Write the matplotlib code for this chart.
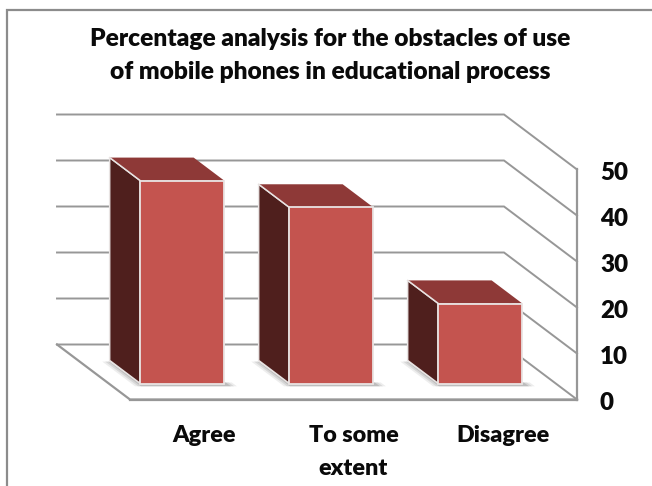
import matplotlib
matplotlib.use("Agg")
import matplotlib.pyplot as plt
from matplotlib.patches import Polygon
from matplotlib.lines import Line2D
from matplotlib.transforms import ScaledTranslation

categories = ["Agree", "To some\nextent", "Disagree"]
values = [44.1, 38.3, 17.4]
value_ticks = [0, 10, 20, 30, 40, 50]
title = "Percentage analysis for the obstacles of use\nof mobile phones in educational process"

W, H = 652, 486
plt.rcParams["font.family"] = ["Lato", "DejaVu Sans"]
fig = plt.figure(figsize=(W / 100, H / 100), dpi=100, facecolor="white")

# Front plane of the 3-D box, in figure pixels
L, R, B, T = 130, 577, 399.5, 169.5
ax = fig.add_axes([L / W, 1 - B / H, (R - L) / W, (B - T) / H])
ax.set_xlim(0, 3)
ax.set_ylim(0, 50)
ax.patch.set_visible(False)

# Oblique projection: depth 0 = front, depth 1 = back wall
DX = -73 / ((R - L) / 3)
DY = 55 / ((B - T) / 50)


def proj(x, y, d):
    return (x + DX * d, y + DY * d)


GRID = "#979797"
for v in value_ticks:
    xs, ys = zip(proj(3, v, 0), proj(3, v, 1), proj(0, v, 1))
    ax.plot(xs, ys, color=GRID, lw=1.4, clip_on=False, zorder=1, solid_joinstyle="miter")
xs, ys = zip(proj(3, 0, 0), proj(0, 0, 0), proj(0, 0, 1))
ax.plot(xs, ys, color=GRID, lw=1.6, clip_on=False, zorder=1, solid_joinstyle="miter")

for s in ("top", "left"):
    ax.spines[s].set_visible(False)
ax.spines["bottom"].set_color(GRID)
ax.spines["bottom"].set_linewidth(1.6)
ax.spines["right"].set_color(GRID)
ax.spines["right"].set_linewidth(1.6)

ax.yaxis.tick_right()
ax.set_yticks(value_ticks)
ax.set_xticks([i + 0.5 for i in range(len(categories))])
ax.set_xticklabels(categories, fontweight="heavy", fontsize=16.8, color="#0a0a0a", linespacing=1.68)
ax.set_yticklabels([str(v) for v in value_ticks], fontweight="heavy", fontsize=17.4, color="#0a0a0a",
                   ha="left", va="center_baseline")
ax.tick_params(axis="x", length=0, pad=18.5)
ax.tick_params(axis="y", length=0, pad=16.5)
nudge = ScaledTranslation(0, -2 / 100, fig.dpi_scale_trans)
for lab in ax.get_yticklabels():
    lab.set_transform(lab.get_transform() + nudge)

# Bars
BAR_W = 84 / ((R - L) / 3)
D0, D1 = 0.29, 0.71
EDGE = "#e9e4e3"
for i, v in enumerate(values):
    c = i + 0.5
    x0, x1 = c - BAR_W / 2 + 0.0, c + BAR_W / 2 + 0.0
    off = -1 / ((R - L) / 3)
    x0 += off
    x1 += off
    # soft floor shadow
    for grow, alpha in ((0.06, 0.10), (0.04, 0.14), (0.02, 0.20)):
        shadow = [proj(x0 - grow * 0.3, 0, D1 - 0.02), proj(x0 - grow, 0, D1 - 0.02),
                  proj(x0 - grow, 0, D0 - 0.05), proj(x1 + grow, 0, D0 - 0.05),
                  proj(x1 + grow, 0, D0 + 0.02), proj(x0, 0, D0 + 0.02)]
        ax.add_patch(Polygon(shadow, closed=True, fc="#555555", ec="none", alpha=alpha,
                             clip_on=False, zorder=2))
    side = [proj(x0, 0, D0), proj(x0, v, D0), proj(x0, v, D1), proj(x0, 0, D1)]
    top = [proj(x0, v, D0), proj(x1, v, D0), proj(x1, v, D1), proj(x0, v, D1)]
    ax.add_patch(Polygon(side, closed=True, fc="#4F1F1D", ec=EDGE, lw=1.1, clip_on=False, zorder=3))
    ax.add_patch(Polygon(top, closed=True, fc="#8E3937", ec="none", clip_on=False, zorder=3))
    xs, ys = zip(proj(x0, v, D1), proj(x0, v, D0))
    ax.plot(xs, ys, color=EDGE, lw=1.1, clip_on=False, zorder=4)
    front = [proj(x0, 0, D0), proj(x1, 0, D0), proj(x1, v, D0), proj(x0, v, D0)]
    ax.add_patch(Polygon(front, closed=True, fc="#C4544F", ec=EDGE, lw=1.3, clip_on=False, zorder=4))

fig.text(330 / W, 1 - 55.5 / H, title, ha="center", va="center", fontweight="heavy",
         fontsize=17.65, color="#0a0a0a", linespacing=1.62)

# Outer chart border (left and top only are inside the crop)
fig.add_artist(Line2D([7 / W, 7 / W, 1], [0, 1 - 10 / H, 1 - 10 / H], color="#8c8c8c", lw=1.6,
                      solid_joinstyle="miter"))

fig.savefig("out.png", dpi=100, facecolor="white")
